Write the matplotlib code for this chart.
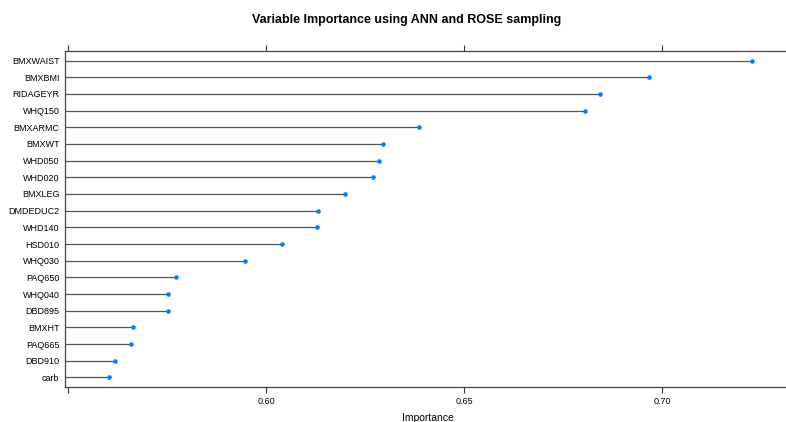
import matplotlib
matplotlib.use("Agg")
import matplotlib.pyplot as plt

# Importancia de variables (ANN + ROSE), de abajo hacia arriba
variables = ["carb", "DBD910", "PAQ665", "BMXHT", "DBD895", "WHQ040", "PAQ650",
             "WHQ030", "HSD010", "WHD140", "DMDEDUC2", "BMXLEG", "WHD020",
             "WHD050", "BMXWT", "BMXARMC", "WHQ150", "RIDAGEYR", "BMXBMI", "BMXWAIST"]
importancia = [0.5603, 0.5618, 0.5659, 0.5664, 0.5752, 0.5753, 0.5773,
               0.5946, 0.6041, 0.6129, 0.6131, 0.6199, 0.6271,
               0.6285, 0.6294, 0.6385, 0.6806, 0.6843, 0.6967, 0.7227]
ticks = [0.55, 0.60, 0.65, 0.70]
tick_labels = ["", "0.60", "0.65", "0.70"]

plt.rcParams['font.family'] = ['Liberation Sans', 'DejaVu Sans']

fig = plt.figure(figsize=(7.86, 4.22), dpi=100)
ax = fig.add_axes([65/786, 1 - 387/422, 721/786, 336/422])

xmin, xmax = 0.5492, 0.7313
pos = list(range(len(variables)))
# lineas desde el borde izquierdo hasta el punto
ax.hlines(pos, xmin, importancia, color='#555555', linewidth=0.9)
ax.plot(importancia, pos, 'o', color='#0080ff', markersize=3.3, markeredgewidth=0)

ax.set_xlim(xmin, xmax)
ax.set_ylim(-0.57, len(variables) - 1 + 0.57)
ax.set_yticks(pos)
ax.set_yticklabels(variables, fontsize=6.5)
ax.tick_params(axis='y', length=0, pad=4)
ax.set_xticks(ticks)
ax.set_xticklabels(tick_labels, fontsize=6.5)
ax.tick_params(axis='x', top=True, direction='out', length=4, width=0.8,
               color='#333333', pad=3)
for s in ['left', 'top', 'bottom']:
    ax.spines[s].set_color('#444444')
    ax.spines[s].set_linewidth(0.9)
ax.spines['right'].set_visible(False)

ax.set_xlabel('Importance', fontsize=7.5)
ax.xaxis.set_label_coords((428 - 65) / 721, (387 - 413) / 336)

fig.text(407/786, 1 - 20/422, 'Variable Importance using ANN and ROSE sampling',
         ha='center', va='center', fontsize=9, fontweight='bold')

fig.savefig('out.png', dpi=100)
